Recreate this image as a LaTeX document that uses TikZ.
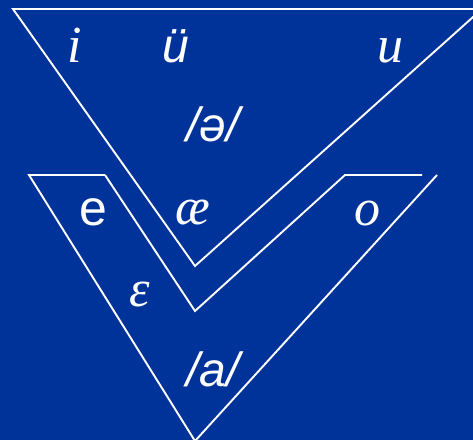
\documentclass[tikz,border=0pt]{standalone}
\usepackage{fontspec}
\setmainfont{Liberation Serif}
\newfontfamily\sansipa{Liberation Sans}
\definecolor{slideblue}{RGB}{0,51,153}
\begin{document}
\begin{tikzpicture}[x=1pt,y=-1pt,line width=1.9pt,
  every node/.style={text=white,inner sep=0pt,anchor=base},
  serifv/.style={font=\fontsize{52}{52}\selectfont\itshape},
  sansv/.style={font=\fontsize{50}{50}\selectfont\sansipa},
  slashv/.style={font=\fontsize{48}{48}\selectfont\sansipa\itshape}]
\useasboundingbox (0,0) rectangle (473,440);
\fill[slideblue] (0,0) rectangle (473,440);
\clip (0,0) rectangle (473,440);
% high vowels
\draw[white] (13,9) -- (482,9) -- (195,266) -- cycle;
% mid and low vowels
\draw[white] (105,175) -- (29,175) -- (195,441) -- (437,175);
\draw[white] (105,175) -- (195,311) -- (345,175) -- (422,175);
\node[serifv] (vi) at (75,62) {i};
\node[sansv,font=\fontsize{48}{48}\selectfont\sansipa\itshape] (vue) at (176,62) {ü};
\node[serifv] (vu) at (390,62) {u};
\node[slashv] (schwa) at (213,141) {/ə/};
\node[sansv] (ve) at (93,225) {e};
\node[serifv] (vae) at (193,224) {æ};
\node[serifv] (vo) at (367,225) {o};
\node[serifv] (veps) at (140,306) {ε};
\node[slashv] (va) at (213,386) {/a/};
\end{tikzpicture}
\end{document}
